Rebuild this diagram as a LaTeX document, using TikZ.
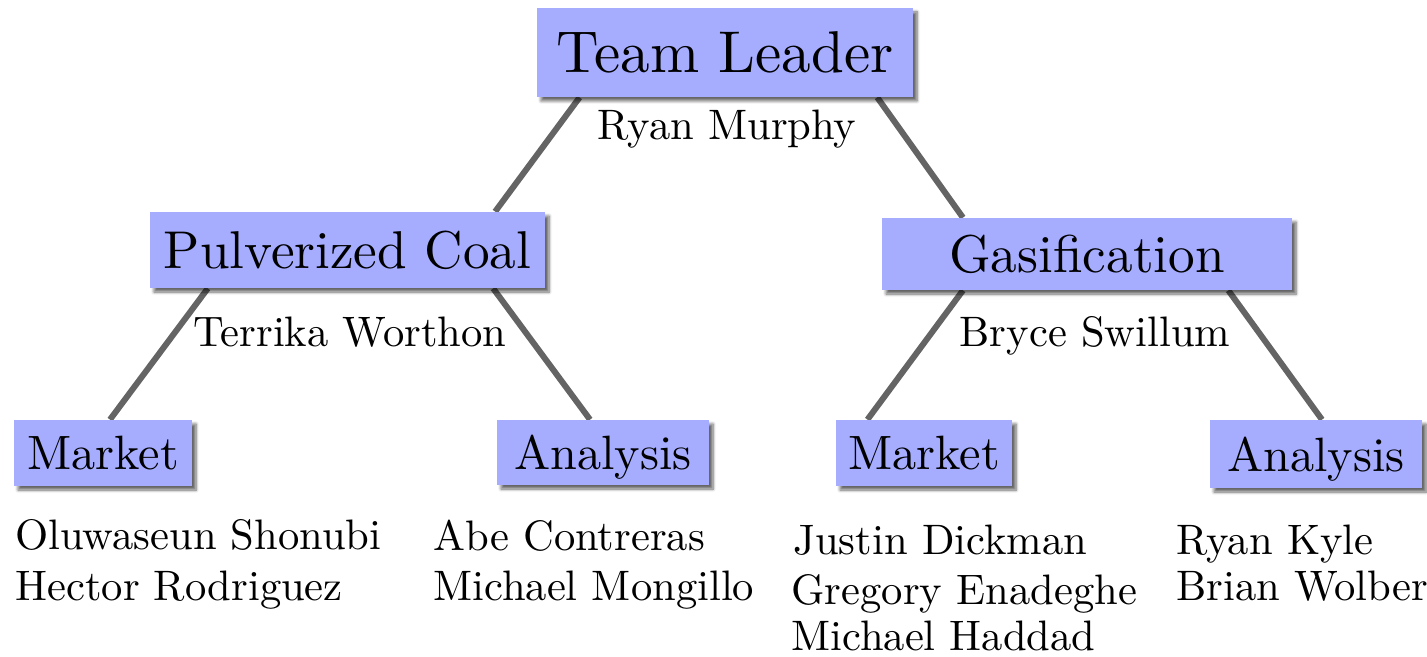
\documentclass[tikz,border=0pt]{standalone}
\usepackage{graphicx}
\usetikzlibrary{calc,shadows.blur,backgrounds}
\definecolor{boxblue}{RGB}{166,173,255}
\definecolor{linegray}{RGB}{100,100,100}
\tikzset{
  box/.style={fill=boxblue, draw=none, inner sep=0pt, anchor=center,
    blur shadow={shadow xshift=2pt, shadow yshift=-2pt, shadow blur radius=1.5pt,
      shadow blur steps=6, shadow opacity=60}},
  conn/.style={draw=linegray, line width=3pt},
  who/.style={inner sep=0pt, anchor=base},
  member/.style={inner sep=0pt, anchor=base west}
}
\newcommand{\nodep}[1]{\raisebox{0pt}[\height][0pt]{#1}}
\newcommand{\lvla}[1]{\nodep{\scalebox{2.95}{#1}}}
\newcommand{\lvlb}[1]{\nodep{\scalebox{2.66}{#1}}}
\newcommand{\lvlc}[1]{\nodep{\scalebox{2.41}{#1}}}
\newcommand{\nm}[1]{\scalebox{2.13}{#1}}
\begin{document}
\begin{tikzpicture}[x=0.5pt,y=-0.5pt]
\useasboundingbox (0,0) rectangle (1427,657);
% boxes
\node[box, minimum width=188pt, minimum height=44.5pt] (tl) at (725,52.5) {\lvla{Team Leader}};
\node[box, minimum width=197.5pt, minimum height=38pt] (pc) at (347.5,250) {\lvlb{Pulverized Coal}};
\node[box, minimum width=205pt, minimum height=36pt] (gas) at (1087,254) {\lvlb{Gasification}};
\node[box, minimum width=89pt, minimum height=33pt] (ml) at (103,453) {\lvlc{Market}};
\node[box, minimum width=106pt, minimum height=32.5pt] (al) at (603,452.5) {\lvlc{Analysis}};
\node[box, minimum width=88pt, minimum height=33pt] (mr) at (924,453) {\lvlc{Market}};
\node[box, minimum width=106pt, minimum height=34pt] (ar) at (1316,454) {\lvlc{Analysis}};
% leaders
\node[who] (rm) at (727,140) {\nm{Ryan Murphy}};
\node[who] (tw) at (350,346) {\nm{Terrika Worthon}};
\node[who] (bs) at (1095,346) {\nm{Bryce Swillum}};
% members
\node[member] (m1) at (15,549) {\nm{Oluwaseun Shonubi}};
\node[member] (m2) at (15,600) {\nm{Hector Rodriguez}};
\node[member] (m3) at (433,550) {\nm{Abe Contreras}};
\node[member] (m4) at (433,600) {\nm{Michael Mongillo}};
\node[member] (m5) at (793,554) {\nm{Justin Dickman}};
\node[member] (m6) at (791,604) {\nm{Gregory Enadeghe}};
\node[member] (m7) at (791,650) {\nm{Michael Haddad}};
\node[member] (m8) at (1176,554) {\nm{Ryan Kyle}};
\node[member] (m9) at (1176,600) {\nm{Brian Wolber}};
% connectors
\begin{scope}[on background layer]
\draw[conn] ($(tl.south west)!0.114!(tl.south east)$) -- ($(pc.north west)!0.873!(pc.north east)$);
\draw[conn] ($(tl.south west)!0.904!(tl.south east)$) -- ($(gas.north west)!0.198!(gas.north east)$);
\draw[conn] ($(pc.south west)!0.147!(pc.south east)$) -- ($(ml.north west)!0.539!(ml.north east)$);
\draw[conn] ($(pc.south west)!0.868!(pc.south east)$) -- ($(al.north west)!0.439!(al.north east)$);
\draw[conn] ($(gas.south west)!0.198!(gas.south east)$) -- ($(mr.north west)!0.18!(mr.north east)$);
\draw[conn] ($(gas.south west)!0.844!(gas.south east)$) -- ($(ar.north west)!0.528!(ar.north east)$);
\end{scope}
\end{tikzpicture}
\end{document}
